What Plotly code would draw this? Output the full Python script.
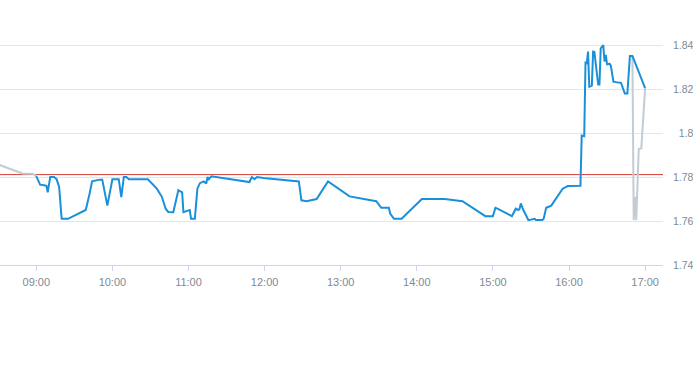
import plotly.graph_objects as go
import pandas as pd

DAY = "2024-01-02 "

# Intraday price (main session)
times = ["09:00", "09:03", "09:06", "09:08", "09:09", "09:11", "09:14", "09:16", "09:18", "09:20",
         "09:25", "09:39", "09:42", "09:44", "09:50", "09:52", "09:56", "10:00", "10:05", "10:07",
         "10:09", "10:11", "10:13", "10:28", "10:35", "10:39", "10:42", "10:44", "10:48", "10:52",
         "10:55", "10:56", "10:59", "11:01", "11:02", "11:05", "11:07", "11:09", "11:12", "11:14",
         "11:15", "11:16", "11:18", "11:48", "11:50", "11:52", "11:54", "11:59", "12:27", "12:29",
         "12:33", "12:41", "12:50", "13:07", "13:28", "13:32", "13:38", "13:39", "13:42", "13:48",
         "14:04", "14:22", "14:36", "14:54", "15:00", "15:02", "15:04", "15:15", "15:18", "15:20",
         "15:21", "15:22", "15:24", "15:28", "15:33", "15:34", "15:39", "15:40", "15:42", "15:46",
         "15:55", "15:59", "16:09", "16:10", "16:12", "16:13", "16:14", "16:15", "16:16", "16:18",
         "16:19", "16:20", "16:23", "16:24", "16:25", "16:27", "16:28", "16:29", "16:30", "16:32",
         "16:33", "16:35", "16:39", "16:41", "16:44", "16:46", "16:48", "16:50", "17:00"]
prices = [1.7804, 1.7765, 1.7762, 1.7760, 1.7730, 1.7800, 1.7800, 1.7790, 1.7755, 1.7610,
          1.7610, 1.7650, 1.7724, 1.7780, 1.7788, 1.7788, 1.7670, 1.7790, 1.7790, 1.7709,
          1.7800, 1.7800, 1.7790, 1.7790, 1.7747, 1.7710, 1.7656, 1.7641, 1.7640, 1.7740,
          1.7730, 1.7640, 1.7646, 1.7650, 1.7610, 1.7610, 1.7747, 1.7772, 1.7780, 1.7770,
          1.7800, 1.7790, 1.7803, 1.7777, 1.7800, 1.7790, 1.7800, 1.7795, 1.7780, 1.7694,
          1.7690, 1.7700, 1.7780, 1.7712, 1.7690, 1.7660, 1.7660, 1.7634, 1.7610, 1.7610,
          1.7700, 1.7700, 1.7690, 1.7622, 1.7622, 1.7660, 1.7655, 1.7622, 1.7656, 1.7650,
          1.7655, 1.7680, 1.7650, 1.7604, 1.7610, 1.7604, 1.7604, 1.7610, 1.7660, 1.7670,
          1.7747, 1.7759, 1.7760, 1.7988, 1.7985, 1.8320, 1.8318, 1.8370, 1.8210, 1.8215,
          1.8370, 1.8368, 1.8220, 1.8220, 1.8385, 1.8400, 1.8325, 1.8355, 1.8312, 1.8315,
          1.8305, 1.8233, 1.8229, 1.8228, 1.8179, 1.8179, 1.8350, 1.8350, 1.8204]

# Pre-open and closing-auction segments (grey)
pre_times = ["08:30", "08:49", "08:57", "09:00"]
pre_prices = [1.7857, 1.7816, 1.7815, 1.7804]
post_times = ["16:50", "16:51", "16:52", "16:53", "16:55", "16:57", "17:00"]
post_prices = [1.8350, 1.7604, 1.7710, 1.7604, 1.7928, 1.7930, 1.8204]

prev_close = 1.7811

hour_ticks = ["09:00", "10:00", "11:00", "12:00", "13:00", "14:00", "15:00", "16:00", "17:00"]
y_ticks = [1.74, 1.76, 1.78, 1.80, 1.82, 1.84]
y_labels = ["1.74", "1.76", "1.78", "\u20071.8", "1.82", "1.84"]


def ts(lst):
    return pd.to_datetime([DAY + t for t in lst])


fig = go.Figure()
fig.add_trace(go.Scatter(x=ts(pre_times), y=pre_prices, mode="lines",
                         line=dict(color="#c2ccd5", width=2), hoverinfo="skip"))
fig.add_trace(go.Scatter(x=ts(post_times), y=post_prices, mode="lines",
                         line=dict(color="#c2ccd5", width=2), hoverinfo="skip"))
fig.add_trace(go.Scatter(x=ts(times), y=prices, mode="lines",
                         line=dict(color="#1a90db", width=2)))

fig.add_shape(type="line", xref="paper", x0=0, x1=1, yref="y", y0=prev_close, y1=prev_close,
              line=dict(color="#d9403a", width=1), layer="between")

fig.update_layout(
    width=693, height=365,
    margin=dict(l=0, r=30, t=23, b=100),
    paper_bgcolor="white", plot_bgcolor="white",
    showlegend=False,
    font=dict(family="Liberation Sans, Arial, sans-serif", size=11, color="#7f8994"),
    xaxis=dict(
        type="date",
        range=[DAY + "08:31:23", DAY + "17:14:06"],
        tickvals=ts(hour_ticks), tickformat="%H:%M",
        ticks="outside", ticklen=5, tickcolor="#ccd6eb", tickwidth=1,
        showline=True, linecolor="#ccd6eb", linewidth=1,
        showgrid=False, zeroline=False, automargin=False,
        ticklabelstandoff=2,
        tickfont=dict(size=11, color="#7f8994"),
    ),
    yaxis=dict(
        side="right", range=[1.74, 1.85],
        tickvals=y_ticks, ticktext=y_labels,
        showgrid=True, gridcolor="#e6e6e6", gridwidth=1,
        zeroline=False, showline=False, ticks="",
        ticklabelstandoff=9, automargin=False,
        tickfont=dict(size=10.5, color="#7f8994"),
    ),
)

fig.write_html("out.html", config={"displayModeBar": False},
               post_script="document.body.style.margin='0';")
